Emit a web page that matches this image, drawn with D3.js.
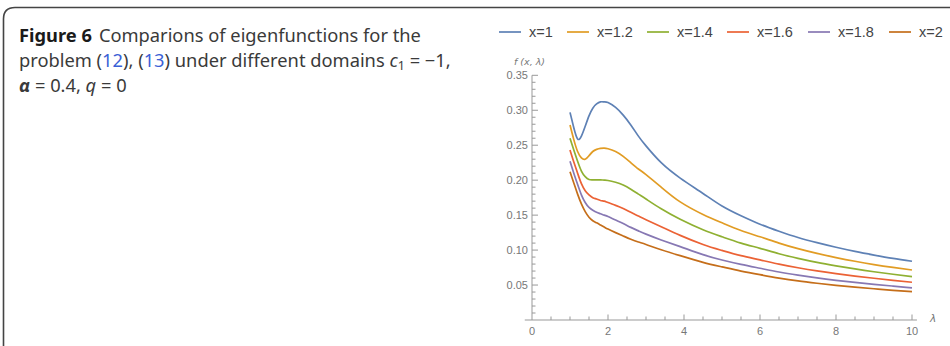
<!DOCTYPE html>
<html>
<head>
<meta charset="utf-8">
<script src="https://cdn.jsdelivr.net/npm/d3@7"></script>
<style>
  body { margin: 0; background: #fff; }
  svg { display: block; }
</style>
</head>
<body>
<div id="chart"></div>
<script>
// values (lambda, f)
var lambdas = [1, 1.1, 1.2, 1.3, 1.4, 1.5, 1.6, 1.7, 1.8, 1.9, 2.0, 2.2, 2.4, 2.6, 2.8, 3.0, 3.4, 3.9, 4.5, 5, 5.5, 6, 6.5, 7, 7.5, 8, 8.5, 9, 9.5, 10];

var fx1  = [0.297, 0.275, 0.259, 0.263, 0.277, 0.292, 0.303, 0.309, 0.312, 0.312, 0.311, 0.304, 0.293, 0.279, 0.263, 0.249, 0.225, 0.203, 0.181, 0.163, 0.149, 0.137, 0.127, 0.118, 0.1106, 0.104, 0.0981, 0.0929, 0.0881, 0.084];
var fx12 = [0.279, 0.258, 0.241, 0.232, 0.230, 0.235, 0.241, 0.244, 0.2455, 0.2458, 0.245, 0.241, 0.234, 0.225, 0.216, 0.208, 0.190, 0.169, 0.151, 0.139, 0.128, 0.119, 0.110, 0.102, 0.0952, 0.0893, 0.084, 0.0793, 0.0752, 0.0715];
var fx14 = [0.260, 0.243, 0.227, 0.213, 0.205, 0.201, 0.2005, 0.2005, 0.2005, 0.200, 0.1995, 0.197, 0.193, 0.187, 0.180, 0.173, 0.159, 0.144, 0.129, 0.119, 0.110, 0.1025, 0.0948, 0.0882, 0.0824, 0.0775, 0.073, 0.069, 0.0654, 0.062];
var fx16 = [0.243, 0.226, 0.210, 0.195, 0.185, 0.179, 0.175, 0.173, 0.171, 0.170, 0.168, 0.164, 0.1595, 0.154, 0.1487, 0.1435, 0.1335, 0.121, 0.108, 0.0995, 0.092, 0.086, 0.0799, 0.0747, 0.0702, 0.0663, 0.0628, 0.0597, 0.0568, 0.054];
var fx18 = [0.227, 0.210, 0.194, 0.179, 0.168, 0.161, 0.157, 0.154, 0.152, 0.150, 0.148, 0.143, 0.138, 0.1325, 0.1275, 0.1228, 0.1145, 0.105, 0.0935, 0.0858, 0.0795, 0.074, 0.0687, 0.0642, 0.0602, 0.0568, 0.0538, 0.051, 0.0485, 0.046];
var fx2  = [0.212, 0.196, 0.180, 0.166, 0.155, 0.147, 0.142, 0.139, 0.136, 0.133, 0.130, 0.125, 0.1202, 0.1155, 0.1115, 0.108, 0.1005, 0.092, 0.0825, 0.076, 0.070, 0.0648, 0.0600, 0.0559, 0.0526, 0.0496, 0.047, 0.0447, 0.0425, 0.0405];

var seriesNames = ["x=1", "x=1.2", "x=1.4", "x=1.6", "x=1.8", "x=2"];
var seriesValues = [fx1, fx12, fx14, fx16, fx18, fx2];
var colors = ["#5e81b5", "#e19c24", "#8fb032", "#eb6235", "#8778b3", "#c56e1a"];

var xTicks = [0, 2, 4, 6, 8, 10];
var yTicks = [0.05, 0.10, 0.15, 0.20, 0.25, 0.30, 0.35];

var width = 950, height = 346;

var svg = d3.select("#chart").append("svg")
  .attr("width", width)
  .attr("height", height);

// caption frame
svg.append("path")
  .attr("d", "M3.5,346 L3.5,19 Q3.5,7.5 15,7.5 L950,7.5")
  .attr("fill", "none")
  .attr("stroke", "#444")
  .attr("stroke-width", 1.6);

var cap = svg.append("text")
  .attr("font-family", "Noto Sans")
  .attr("font-size", 18.3)
  .attr("fill", "#3a3a3a");

var l1 = cap.append("tspan").attr("x", 19).attr("y", 42);
l1.append("tspan").attr("font-weight", "bold").attr("fill", "#1a1a1a").text("Figure 6");
l1.append("tspan").attr("dx", 7).text("Comparions of eigenfunctions for the");

var l2 = cap.append("tspan").attr("x", 19).attr("y", 67);
l2.append("tspan").text("problem (");
l2.append("tspan").attr("fill", "#3b5fd6").text("12");
l2.append("tspan").text("), (");
l2.append("tspan").attr("fill", "#3b5fd6").text("13");
l2.append("tspan").text(") under different domains ");
l2.append("tspan").attr("font-style", "italic").text("c");
l2.append("tspan").attr("font-size", 12.5).attr("dy", 3).text("1");
l2.append("tspan").attr("dy", -3).text(" = \u22121,");

var l3 = cap.append("tspan").attr("x", 19).attr("y", 92);
l3.append("tspan").attr("font-style", "italic").attr("font-weight", "bold").text("\u03b1");
l3.append("tspan").text(" = 0.4, ");
l3.append("tspan").attr("font-style", "italic").text("q");
l3.append("tspan").text(" = 0");

// scales
var xScale = d3.scaleLinear().domain([0, 10]).range([532, 912]);
var yScale = d3.scaleLinear().domain([0, 0.35]).range([320, 75.3]);

var axisColor = "#999";
var labelColor = "#777";

// y axis
var yAxis = svg.append("g").attr("transform", "translate(532,0)");
yAxis.append("line")
  .attr("y1", yScale(0.35)).attr("y2", yScale(0))
  .attr("stroke", axisColor);
yAxis.selectAll("line.minor")
  .data(d3.range(1, 36).map(function(i){ return i / 100; }))
  .enter().append("line")
    .attr("class", "minor")
    .attr("x1", 0)
    .attr("x2", function(d){ return Math.abs(d * 20 - Math.round(d * 20)) < 1e-6 ? 6 : 3.5; })
    .attr("y1", function(d){ return yScale(d); })
    .attr("y2", function(d){ return yScale(d); })
    .attr("stroke", axisColor);
yAxis.selectAll("text")
  .data(yTicks)
  .enter().append("text")
    .attr("x", -4)
    .attr("y", function(d){ return yScale(d) + 4; })
    .attr("text-anchor", "end")
    .attr("font-family", "Liberation Sans")
    .attr("font-size", 11)
    .attr("fill", labelColor)
    .text(function(d){ return d3.format(".2f")(d); });

// x axis
var xAxis = svg.append("g").attr("transform", "translate(0,320)");
xAxis.append("line")
  .attr("x1", xScale(-0.19)).attr("x2", xScale(10.13))
  .attr("stroke", axisColor);
xAxis.selectAll("line.tick")
  .data(d3.range(1, 21).map(function(i){ return i / 2; }))
  .enter().append("line")
    .attr("class", "tick")
    .attr("x1", function(d){ return xScale(d); })
    .attr("x2", function(d){ return xScale(d); })
    .attr("y1", 0)
    .attr("y2", function(d){ return d % 2 === 0 ? -5.5 : -3.5; })
    .attr("stroke", axisColor);
xAxis.selectAll("text")
  .data(xTicks)
  .enter().append("text")
    .attr("x", function(d){ return xScale(d); })
    .attr("y", 15)
    .attr("text-anchor", "middle")
    .attr("font-family", "Liberation Sans")
    .attr("font-size", 11)
    .attr("fill", labelColor)
    .text(function(d){ return d; });

// axis labels
svg.append("text")
  .attr("x", 930).attr("y", 322)
  .attr("font-family", "DejaVu Sans")
  .attr("font-style", "italic")
  .attr("font-size", 10.5)
  .attr("fill", labelColor)
  .text("\u03bb");
svg.append("text")
  .attr("x", 514).attr("y", 65)
  .attr("font-family", "DejaVu Sans")
  .attr("font-style", "italic")
  .attr("font-size", 9.5)
  .attr("fill", labelColor)
  .text("f (x, \u03bb)");

// curves
var line = d3.line()
  .x(function(d){ return xScale(d[0]); })
  .y(function(d){ return yScale(d[1]); })
  .curve(d3.curveNatural);

svg.append("g").selectAll("path")
  .data(seriesValues)
  .enter().append("path")
    .attr("d", function(vals){ return line(lambdas.map(function(l, i){ return [l, vals[i]]; })); })
    .attr("fill", "none")
    .attr("stroke", function(d, i){ return colors[i]; })
    .attr("stroke-width", 1.7);

// legend
var legendX = [499, 567, 647, 727, 808, 889];
var legend = svg.append("g").selectAll("g")
  .data(seriesNames)
  .enter().append("g")
    .attr("transform", function(d, i){ return "translate(" + legendX[i] + ",32)"; });
legend.append("line")
  .attr("x1", 0).attr("x2", 22)
  .attr("stroke", function(d, i){ return colors[i]; })
  .attr("stroke-width", 1.7);
legend.append("text")
  .attr("x", 30).attr("y", 5)
  .attr("font-family", "Liberation Sans")
  .attr("font-size", 14.5)
  .attr("fill", "#444")
  .text(function(d){ return d; });
</script>
</body>
</html>
